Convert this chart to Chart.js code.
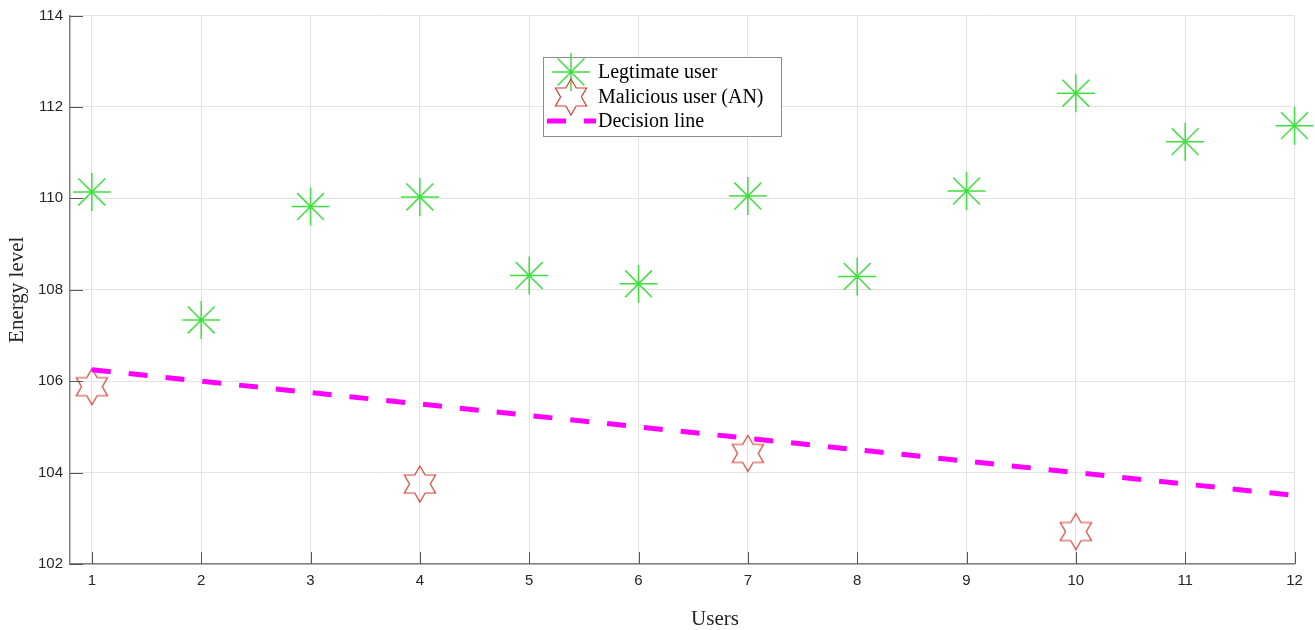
<!DOCTYPE html>
<html>
<head>
<meta charset="utf-8">
<script src="https://cdn.jsdelivr.net/npm/chart.js@4.4.1/dist/chart.umd.min.js"></script>
<style>
  html, body { margin: 0; padding: 0; background: #fff; overflow: hidden; }
  #wrap { position: relative; width: 1315px; height: 635px; margin-top: -5px; }
</style>
</head>
<body>
<div id="wrap"><canvas id="energy-chart"></canvas></div>
<script>
// values
const users = [1, 2, 3, 4, 5, 6, 7, 8, 9, 10, 11, 12];
const legitimate = [110.14, 107.34, 109.82, 110.03, 108.31, 108.13, 110.05, 108.29, 110.16, 112.30, 111.24, 111.59];
const maliciousUsers = [1, 4, 7, 10];
const malicious = [105.88, 103.75, 104.42, 102.71];
const decision = [106.25, 106.0, 105.75, 105.5, 105.25, 105.0, 104.75, 104.5, 104.25, 104.0, 103.75, 103.5];
const xTicks = [1, 2, 3, 4, 5, 6, 7, 8, 9, 10, 11, 12];
const yTicks = [102, 104, 106, 108, 110, 112, 114];
const seriesNames = ["Legtimate user", "Malicious user (AN)", "Decision line"];

const GREEN = "#3ee03e";
const RED = "#cf3e33";
const MAGENTA = "#ff00ff";
const SERIF = "'Liberation Serif', 'Times New Roman', serif";
const SANS = "'Liberation Sans', Arial, sans-serif";
const SHIFT = 5; // canvas is pulled up by this much

// hexagram marker (matlab 'h')
function makeHexagram(R, color) {
  const c = document.createElement("canvas");
  const s = Math.ceil(R * 2 + 4);
  c.width = s; c.height = s;
  const g = c.getContext("2d");
  const r = R / Math.sqrt(3);
  g.beginPath();
  for (let i = 0; i < 12; i++) {
    const a = -Math.PI / 2 + i * Math.PI / 6;
    const rr = i % 2 === 0 ? R : r;
    const px = s / 2 + rr * Math.cos(a), py = s / 2 + rr * Math.sin(a);
    i === 0 ? g.moveTo(px, py) : g.lineTo(px, py);
  }
  g.closePath();
  g.strokeStyle = color;
  g.lineWidth = 1.2;
  g.stroke();
  return c;
}
const hexagram = makeHexagram(18, RED);

function drawAsterisk(ctx, x, y, r) {
  const d = r * Math.SQRT1_2;
  ctx.save();
  ctx.strokeStyle = GREEN;
  ctx.lineWidth = 1.5;
  ctx.beginPath();
  ctx.moveTo(x - r, y); ctx.lineTo(x + r, y);
  ctx.moveTo(x, y - r); ctx.lineTo(x, y + r);
  ctx.moveTo(x - d, y - d); ctx.lineTo(x + d, y + d);
  ctx.moveTo(x - d, y + d); ctx.lineTo(x + d, y - d);
  ctx.stroke();
  ctx.restore();
}

// inward tick marks, x title, and the boxed legend
const extras = {
  id: "extras",
  afterDraw(chart) {
    const ctx = chart.ctx;
    const xs = chart.scales.x, ys = chart.scales.y;
    const area = chart.chartArea;
    ctx.save();
    ctx.strokeStyle = "#555";
    ctx.lineWidth = 1;
    ctx.beginPath();
    xTicks.forEach(v => {
      const px = Math.round(xs.getPixelForValue(v)) + 0.5;
      ctx.moveTo(px, area.bottom); ctx.lineTo(px, area.bottom - 12);
    });
    yTicks.forEach(v => {
      const py = Math.round(ys.getPixelForValue(v)) + 0.5;
      ctx.moveTo(area.left, py); ctx.lineTo(area.left + 13, py);
    });
    ctx.stroke();

    ctx.translate(0, SHIFT);
    ctx.fillStyle = "#262626";
    ctx.font = "21px " + SERIF;
    ctx.textAlign = "center";
    ctx.textBaseline = "middle";
    ctx.fillText("Users", 715, 619);

    // legend
    const lx = 543, ly = 57, lw = 238, lh = 79;
    ctx.fillStyle = "#fff";
    ctx.fillRect(lx, ly, lw, lh);
    ctx.strokeStyle = "#8c8c8c";
    ctx.strokeRect(lx + 0.5, ly + 0.5, lw, lh);

    drawAsterisk(ctx, 571, 72, 19);
    ctx.drawImage(hexagram, 571 - hexagram.width / 2, 97 - hexagram.height / 2);
    ctx.strokeStyle = MAGENTA;
    ctx.lineWidth = 5;
    ctx.setLineDash([19, 18]);
    ctx.beginPath();
    ctx.moveTo(547, 121); ctx.lineTo(596, 121);
    ctx.stroke();
    ctx.setLineDash([]);

    ctx.fillStyle = "#000";
    ctx.font = "20px " + SERIF;
    ctx.textAlign = "left";
    ctx.fillText(seriesNames[0], 598, 73);
    ctx.fillText(seriesNames[1], 598, 98);
    ctx.fillText(seriesNames[2], 598, 122);
    ctx.restore();
  }
};

const ctx = document.getElementById("energy-chart").getContext("2d");
new Chart(ctx, {
  type: "scatter",
  data: {
    datasets: [
      {
        label: seriesNames[0],
        data: users.map((u, i) => ({ x: u, y: legitimate[i] })),
        pointStyle: "star",
        pointRadius: 19,
        pointHoverRadius: 19,
        pointBorderColor: GREEN,
        pointBackgroundColor: GREEN,
        pointBorderWidth: 1.5,
        showLine: false,
        clip: false,
        order: 1,
      },
      {
        label: seriesNames[1],
        data: maliciousUsers.map((u, i) => ({ x: u, y: malicious[i] })),
        pointStyle: hexagram,
        pointRadius: 18,
        showLine: false,
        clip: false,
        order: 2,
      },
      {
        label: seriesNames[2],
        type: "line",
        data: users.map((u, i) => ({ x: u, y: decision[i] })),
        borderColor: MAGENTA,
        borderWidth: 5,
        borderDash: [19, 18],
        pointRadius: 0,
        fill: false,
        tension: 0,
        order: 0,
      },
    ],
  },
  options: {
    responsive: true,
    maintainAspectRatio: false,
    animation: false,
    layout: { padding: { top: 10, right: 20, left: 0, bottom: 0 } },
    plugins: {
      legend: { display: false },
      tooltip: { enabled: false },
    },
    scales: {
      x: {
        type: "linear",
        min: 0.8,
        max: 12,
        afterBuildTicks: (s) => { s.ticks = xTicks.map(v => ({ value: v })); },
        afterFit: (s) => { s.height = 66; },
        grid: { color: "#e3e3e3", drawTicks: false },
        border: { display: true, color: "#808080", width: 1.5 },
        ticks: { color: "#262626", font: { family: SANS, size: 15 }, padding: 8, maxRotation: 0 },
      },
      y: {
        min: 102,
        max: 114,
        afterBuildTicks: (s) => { s.ticks = yTicks.map(v => ({ value: v })); },
        afterFit: (s) => { s.width = 70; },
        grid: { color: "#e3e3e3", drawTicks: false },
        border: { display: true, color: "#808080", width: 1.5 },
        ticks: { color: "#262626", font: { family: SANS, size: 15 }, padding: 7 },
        title: {
          display: true,
          text: "Energy level",
          color: "#262626",
          font: { family: SERIF, size: 21 },
          padding: { top: 5, bottom: 0 },
        },
      },
    },
  },
  plugins: [extras],
});
</script>
</body>
</html>
